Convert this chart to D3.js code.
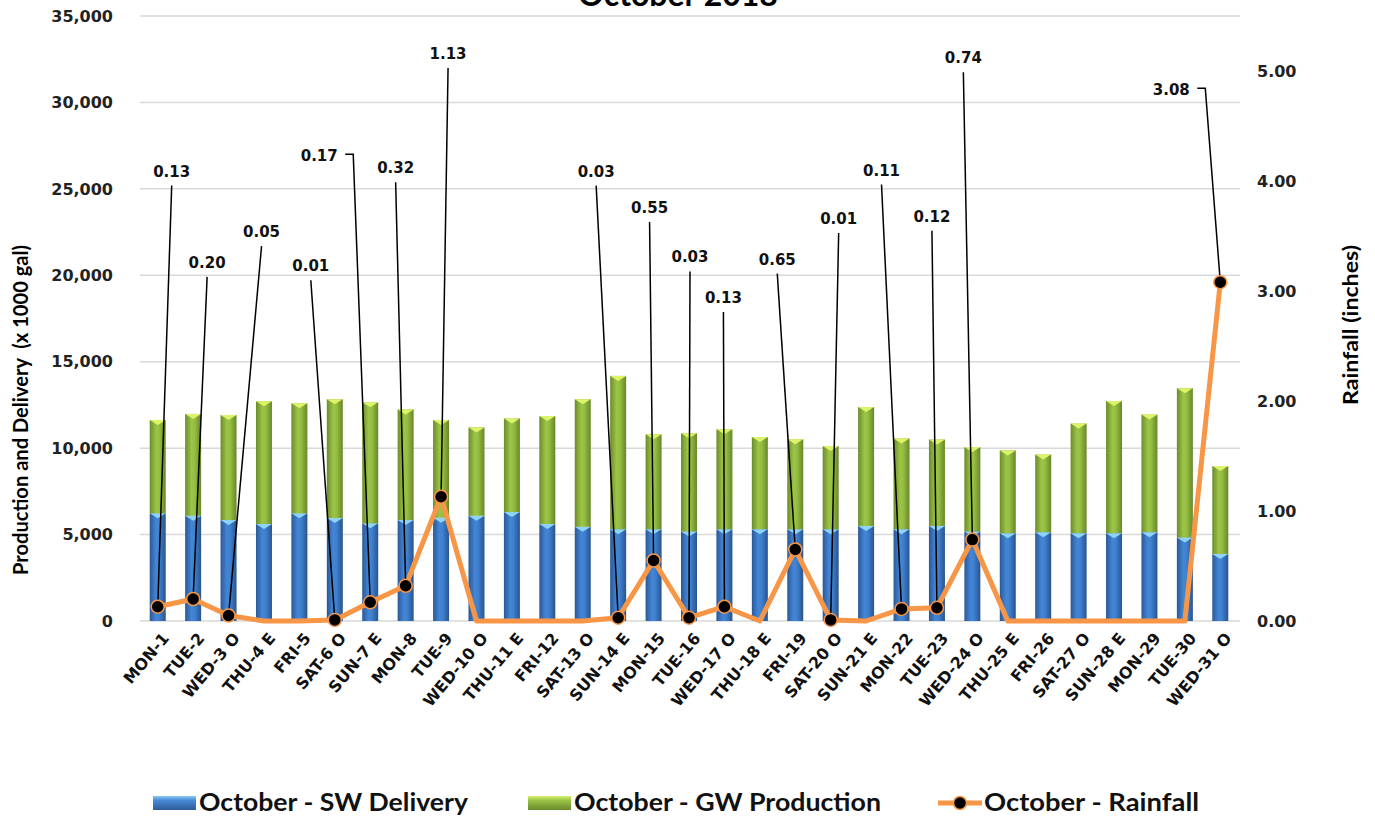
<!DOCTYPE html>
<html>
<head>
<meta charset="utf-8">
<script src="https://cdn.jsdelivr.net/npm/d3@7"></script>
<style>
  body { margin: 0; background: #fff; }
  svg { display: block; }
</style>
</head>
<body>
<svg id="chart" width="1375" height="820"></svg>
<script>
// categories and values
const days = ["MON-1","TUE-2","WED-3 O","THU-4 E","FRI-5","SAT-6 O","SUN-7 E","MON-8","TUE-9","WED-10 O",
  "THU-11 E","FRI-12","SAT-13 O","SUN-14 E","MON-15","TUE-16","WED-17 O","THU-18 E","FRI-19","SAT-20 O",
  "SUN-21 E","MON-22","TUE-23","WED-24 O","THU-25 E","FRI-26","SAT-27 O","SUN-28 E","MON-29","TUE-30","WED-31 O"];

const swDelivery = [6230,6090,5840,5610,6230,5960,5650,5840,5980,6090,
  6300,5610,5450,5310,5310,5180,5310,5310,5310,5310,
  5500,5310,5500,5180,5080,5140,5080,5080,5140,4830,3880];

const gwProduction = [5400,5890,6080,7100,6360,6870,7000,6400,5650,5110,
  5420,6250,7380,8870,5490,5680,5780,5330,5200,4810,
  6880,5250,5000,4880,4790,4490,6340,7650,6800,8640,5080];

const rainfall = [0.13,0.20,0.05,0,0,0.01,0.17,0.32,1.13,0,
  0,0,0,0.03,0.55,0.03,0.13,0,0.65,0.01,
  0,0.11,0.12,0.74,0,0,0,0,0,0,3.08];

const leftTicks = [0,5000,10000,15000,20000,25000,30000,35000];
const rightTicks = [0,1,2,3,4,5];

// where each rainfall label sits: [x offset px, baseline in inches, elbow leader]
const labelPlace = {
  0:[14,4.04], 1:[14,3.21], 2:[33,3.49], 5:[-24,3.18], 6:[-51,4.18,true], 7:[-10,4.07],
  8:[7,5.11], 13:[-22,4.04], 14:[-4,3.71], 15:[1,3.26], 16:[-1,2.89], 18:[-18,3.24],
  19:[8,3.61], 21:[-20,4.05], 22:[-5,3.63], 23:[-9,5.07], 30:[-49,4.78,true]
};

const svg = d3.select('#chart');
const plotLeft = 140, plotRight = 1238, plotTop = 16, plotBottom = 621;

const x = d3.scaleBand().domain(days).range([plotLeft, plotRight]).padding(0);
const yL = d3.scaleLinear().domain([0, 35000]).range([plotBottom, plotTop]);
const yR = d3.scaleLinear().domain([0, 5.5]).range([plotBottom, plotTop]);
const barW = 16;

const ORANGE = "#f79646";
const numFont = "'DejaVu Sans', Verdana, sans-serif";
const txtFont = "Lato, 'Open Sans', sans-serif";

// gradients
const defs = svg.append('defs');
function hGrad(id, stops) {
  const g = defs.append('linearGradient').attr('id', id)
    .attr('x1', '0%').attr('x2', '100%').attr('y1', '0%').attr('y2', '0%');
  stops.forEach(s => g.append('stop').attr('offset', s[0]).attr('stop-color', s[1]));
}
hGrad('gBlue', [['0%','#2a5896'],['40%','#4486d6'],['60%','#3f80d0'],['100%','#28548e']]);
hGrad('gGreen', [['0%','#6b8c2c'],['40%','#9cc447'],['60%','#96be42'],['100%','#67872a']]);

// title (cut off at top in the reference)
svg.append('text')
  .attr('x', 678).attr('y', 6)
  .attr('text-anchor', 'middle')
  .style('font-family', txtFont).style('font-weight', 'bold').style('font-size', '32px')
  .text('October 2018');

// gridlines
svg.append('g').selectAll('line')
  .data(leftTicks)
  .join('line')
  .attr('x1', plotLeft).attr('x2', plotRight + 2)
  .attr('y1', d => yL(d)).attr('y2', d => yL(d))
  .attr('stroke', '#d9d9d9').attr('stroke-width', 1.5);

// left axis labels
svg.append('g').selectAll('text')
  .data(leftTicks)
  .join('text')
  .attr('x', 113).attr('y', d => yL(d))
  .attr('dy', '0.36em')
  .attr('text-anchor', 'end')
  .style('font-family', numFont).style('font-weight', 'bold').style('font-size', '16px')
  .style('fill', '#222')
  .text(d => d3.format(',')(d));

// right axis labels
svg.append('g').selectAll('text')
  .data(rightTicks)
  .join('text')
  .attr('x', 1257).attr('y', d => yR(d))
  .attr('dy', '0.36em')
  .attr('text-anchor', 'start')
  .style('font-family', numFont).style('font-weight', 'bold').style('font-size', '16px')
  .style('fill', '#222')
  .text(d => d.toFixed(2));

// axis titles
svg.append('text')
  .attr('transform', 'translate(21,410) rotate(-90)')
  .attr('text-anchor', 'middle')
  .attr('dy', '0.35em')
  .attr('textLength', 330).attr('lengthAdjust', 'spacingAndGlyphs')
  .style('font-family', txtFont).style('font-weight', 'bold').style('font-size', '20px')
  .style('white-space', 'pre')
  .text('Production and Delivery  (x 1000 gal)');

svg.append('text')
  .attr('transform', 'translate(1351,325) rotate(-90)')
  .attr('text-anchor', 'middle')
  .attr('dy', '0.35em')
  .attr('textLength', 160).attr('lengthAdjust', 'spacingAndGlyphs')
  .style('font-family', txtFont).style('font-weight', 'bold').style('font-size', '20px')
  .text('Rainfall (inches)');

// stacked bars
const bars = svg.append('g');
days.forEach((d, i) => {
  const cx = x(d) + x.bandwidth() / 2;
  const sw = swDelivery[i], gw = gwProduction[i];
  const x0 = cx - barW / 2;
  // SW delivery
  bars.append('rect')
    .attr('x', x0).attr('width', barW)
    .attr('y', yL(sw)).attr('height', yL(0) - yL(sw))
    .attr('fill', 'url(#gBlue)');
  bars.append('path')
    .attr('d', `M${x0},${yL(sw)}L${x0 + barW},${yL(sw)}L${cx},${yL(sw) + 5}Z`)
    .attr('fill', '#8fd3f8');
  // GW production on top
  bars.append('rect')
    .attr('x', x0).attr('width', barW)
    .attr('y', yL(sw + gw)).attr('height', yL(sw) - yL(sw + gw))
    .attr('fill', 'url(#gGreen)');
  bars.append('path')
    .attr('d', `M${x0},${yL(sw + gw)}L${x0 + barW},${yL(sw + gw)}L${cx},${yL(sw + gw) + 5}Z`)
    .attr('fill', '#dcf36a');
});

// x labels
svg.append('g').selectAll('text')
  .data(days)
  .join('text')
  .attr('transform', d => `translate(${x(d) + x.bandwidth() / 2 + 8},${635}) rotate(-50)`)
  .attr('text-anchor', 'end')
  .attr('dy', '0.35em')
  .style('font-family', numFont).style('font-weight', 'bold').style('font-size', '16px')
  .style('fill', '#111')
  .text(d => d);

// rainfall line
const line = d3.line()
  .x((v, i) => x(days[i]) + x.bandwidth() / 2)
  .y(v => yR(v));

svg.append('path')
  .datum(rainfall)
  .attr('d', line)
  .attr('fill', 'none')
  .attr('stroke', ORANGE)
  .attr('stroke-width', 5)
  .attr('stroke-linejoin', 'round');

// leader lines + labels
const ann = svg.append('g');
Object.keys(labelPlace).forEach(k => {
  const i = +k;
  const [dx, yi, elbow] = labelPlace[k];
  const px = x(days[i]) + x.bandwidth() / 2, py = yR(rainfall[i]);
  const lx = px + dx, ly = yR(yi);
  if (elbow) {
    const ex = lx + 26, ey = ly - 7;
    ann.append('path')
      .attr('d', `M${ex},${ey}L${ex + 8},${ey}L${px},${py}`)
      .attr('fill', 'none').attr('stroke', '#000').attr('stroke-width', 1.5);
  } else {
    ann.append('line')
      .attr('x1', lx).attr('y1', ly + 9)
      .attr('x2', px).attr('y2', py)
      .attr('stroke', '#000').attr('stroke-width', 1.5);
  }
  ann.append('text')
    .attr('x', lx).attr('y', ly)
    .attr('text-anchor', 'middle')
    .style('font-family', numFont).style('font-weight', 'bold').style('font-size', '15px')
    .style('fill', '#111')
    .text(rainfall[i].toFixed(2));
});

// markers on rainy days
svg.append('g').selectAll('circle')
  .data(rainfall.map((v, i) => ({v, i})).filter(d => d.v > 0))
  .join('circle')
  .attr('cx', d => x(days[d.i]) + x.bandwidth() / 2)
  .attr('cy', d => yR(d.v))
  .attr('r', 6.5)
  .attr('fill', '#000')
  .attr('stroke', ORANGE).attr('stroke-width', 1.5);

// legend
const leg = svg.append('g');
const legY = 803;
const vb = defs.append('linearGradient').attr('id', 'gBlueV').attr('x1', 0).attr('x2', 0).attr('y1', 0).attr('y2', 1);
vb.append('stop').attr('offset', '0%').attr('stop-color', '#8ccaf5');
vb.append('stop').attr('offset', '30%').attr('stop-color', '#4a8ad6');
vb.append('stop').attr('offset', '100%').attr('stop-color', '#2c5c9a');
const vg = defs.append('linearGradient').attr('id', 'gGreenV').attr('x1', 0).attr('x2', 0).attr('y1', 0).attr('y2', 1);
vg.append('stop').attr('offset', '0%').attr('stop-color', '#d8f070');
vg.append('stop').attr('offset', '30%').attr('stop-color', '#9cc447');
vg.append('stop').attr('offset', '100%').attr('stop-color', '#6a8a2c');

const legendItems = [
  {label: 'October - SW Delivery', kind: 'bar', fill: 'url(#gBlueV)', x: 153, w: 269},
  {label: 'October - GW Production', kind: 'bar', fill: 'url(#gGreenV)', x: 528, w: 307},
  {label: 'October - Rainfall', kind: 'line', x: 938, w: 215}
];

legendItems.forEach(it => {
  if (it.kind === 'bar') {
    leg.append('rect').attr('x', it.x).attr('y', legY - 7).attr('width', 43).attr('height', 14)
      .attr('fill', it.fill);
  } else {
    leg.append('line').attr('x1', it.x).attr('x2', it.x + 44).attr('y1', legY).attr('y2', legY)
      .attr('stroke', ORANGE).attr('stroke-width', 5);
    leg.append('circle').attr('cx', it.x + 22).attr('cy', legY).attr('r', 6.5)
      .attr('fill', '#000').attr('stroke', ORANGE).attr('stroke-width', 1.5);
  }
  leg.append('text')
    .attr('x', it.x + 46).attr('y', legY).attr('dy', '0.35em')
    .attr('textLength', it.w).attr('lengthAdjust', 'spacingAndGlyphs')
    .style('font-family', txtFont).style('font-weight', 'bold').style('font-size', '24px')
    .style('fill', '#111')
    .text(it.label);
});
</script>
</body>
</html>
